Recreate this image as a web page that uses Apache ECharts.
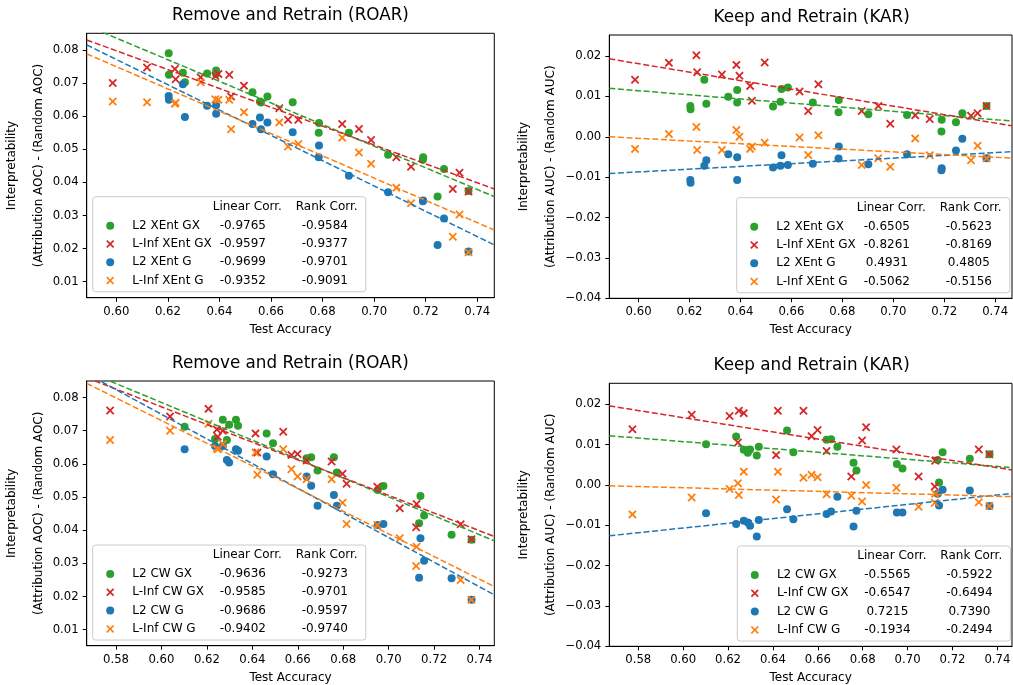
<!DOCTYPE html>
<html>
<head>
<meta charset="utf-8">
<script src="https://cdn.jsdelivr.net/npm/echarts@6/dist/echarts.min.js"></script>
<style>
  html, body { margin: 0; padding: 0; background: #fff; }
  #chart { width: 1013px; height: 685px; }
</style>
</head>
<body>
<div id="chart"></div>
<script>
// test accuracy of each model (shared by ROAR and KAR panels)
const xentL2X = [0.6203, 0.6204, 0.6258, 0.6266, 0.6352, 0.6387, 0.6387, 0.6528, 0.6557, 0.6561, 0.6586, 0.6684, 0.6786, 0.6785, 0.6902, 0.7054, 0.7190, 0.7189, 0.7246, 0.7271, 0.7366];
const xentLinfX = [0.5986, 0.6119, 0.6227, 0.6230, 0.6327, 0.6384, 0.6396, 0.6438, 0.6445, 0.6495, 0.6632, 0.6666, 0.6706, 0.6876, 0.6941, 0.6988, 0.7086, 0.7143, 0.7305, 0.7331, 0.7366];
const cwL2X = [0.6102, 0.6236, 0.6270, 0.6288, 0.6298, 0.6328, 0.6337, 0.6463, 0.6491, 0.6639, 0.6659, 0.6687, 0.6759, 0.6772, 0.6952, 0.6977, 0.7140, 0.7134, 0.7156, 0.7277, 0.7365];
const cwLinfX = [0.5774, 0.6038, 0.6207, 0.6244, 0.6248, 0.6270, 0.6414, 0.6422, 0.6536, 0.6572, 0.6599, 0.6639, 0.6749, 0.6797, 0.6815, 0.6950, 0.7049, 0.7121, 0.7123, 0.7317, 0.7364];

// ROAR, XEnt
const roarXentL2GX = [0.0790, 0.0725, 0.0731, 0.0702, 0.0729, 0.0738, 0.0727, 0.0672, 0.0644, 0.0641, 0.0659, 0.0642, 0.0579, 0.0550, 0.0550, 0.0483, 0.0476, 0.0468, 0.0357, 0.0440, 0.0374];
const roarXentLinfGX = [0.0700, 0.0747, 0.0742, 0.0711, 0.0717, 0.0721, 0.0727, 0.0725, 0.0659, 0.0692, 0.0624, 0.0589, 0.0589, 0.0576, 0.0561, 0.0528, 0.0476, 0.0447, 0.0380, 0.0429, 0.0372];
const roarXentL2G = [0.0661, 0.0649, 0.0696, 0.0597, 0.0631, 0.0607, 0.0633, 0.0576, 0.0596, 0.0560, 0.0581, 0.0551, 0.0511, 0.0476, 0.0420, 0.0370, 0.0345, 0.0343, 0.0211, 0.0291, 0.0191];
const roarXentLinfG = [0.0644, 0.0642, 0.0637, 0.0640, 0.0702, 0.0651, 0.0649, 0.0649, 0.0560, 0.0612, 0.0581, 0.0508, 0.0516, 0.0535, 0.0490, 0.0456, 0.0384, 0.0337, 0.0236, 0.0303, 0.0189];
// KAR, XEnt
const karXentL2GX = [0.0076, 0.0068, 0.0141, 0.0082, 0.0099, 0.0116, 0.0085, 0.0075, 0.0087, 0.0118, 0.0122, 0.0085, 0.0091, 0.0061, 0.0056, 0.0054, 0.0042, 0.0013, 0.0036, 0.0058, 0.0076];
const karXentLinfGX = [0.0141, 0.0183, 0.0202, 0.0160, 0.0154, 0.0178, 0.0151, 0.0126, 0.0089, 0.0184, 0.0112, 0.0064, 0.0130, 0.0064, 0.0076, 0.0032, 0.0053, 0.0044, 0.0052, 0.0058, 0.0076];
const karXentL2G = [-0.0107, -0.0114, -0.0072, -0.0058, -0.0043, -0.0051, -0.0107, -0.0076, -0.0072, -0.0046, -0.0070, -0.0067, -0.0024, -0.0054, -0.0068, -0.0043, -0.0078, -0.0083, -0.0034, -0.0005, -0.0053];
const karXentLinfG = [-0.0030, 0.0007, 0.0024, -0.0033, -0.0033, 0.0017, 0.0000, -0.0030, -0.0024, -0.0015, -0.0002, -0.0045, 0.0004, -0.0070, -0.0053, -0.0074, -0.0004, -0.0046, -0.0058, -0.0022, -0.0053];
// ROAR, CW
const roarCwL2GX = [0.0712, 0.0675, 0.0733, 0.0672, 0.0718, 0.0733, 0.0715, 0.0692, 0.0662, 0.0617, 0.0620, 0.0580, 0.0620, 0.0574, 0.0521, 0.0533, 0.0503, 0.0421, 0.0444, 0.0386, 0.0371];
const roarCwLinfGX = [0.0761, 0.0743, 0.0766, 0.0704, 0.0682, 0.0700, 0.0692, 0.0634, 0.0697, 0.0627, 0.0630, 0.0610, 0.0607, 0.0570, 0.0540, 0.0531, 0.0466, 0.0409, 0.0479, 0.0418, 0.0373];
const roarCwL2G = [0.0644, 0.0654, 0.0654, 0.0612, 0.0604, 0.0644, 0.0640, 0.0622, 0.0569, 0.0562, 0.0534, 0.0474, 0.0506, 0.0474, 0.0416, 0.0419, 0.0376, 0.0257, 0.0308, 0.0255, 0.0190];
const roarCwLinfG = [0.0672, 0.0700, 0.0721, 0.0647, 0.0644, 0.0660, 0.0634, 0.0567, 0.0644, 0.0584, 0.0562, 0.0554, 0.0554, 0.0483, 0.0419, 0.0416, 0.0376, 0.0292, 0.0350, 0.0250, 0.0190];
// KAR, CW
const karCwL2GX = [0.0101, 0.0120, 0.0087, 0.0080, 0.0088, 0.0073, 0.0095, 0.0135, 0.0081, 0.0112, 0.0113, 0.0095, 0.0055, 0.0036, 0.0052, 0.0041, 0.0006, 0.0062, 0.0081, 0.0065, 0.0076];
const karCwLinfGX = [0.0138, 0.0174, 0.0171, 0.0105, 0.0184, 0.0178, 0.0074, 0.0184, 0.0184, 0.0121, 0.0136, 0.0084, 0.0021, 0.0110, 0.0143, 0.0088, 0.0021, -0.0004, 0.0060, 0.0088, 0.0076];
const karCwL2G = [-0.0070, -0.0097, -0.0089, -0.0093, -0.0101, -0.0128, -0.0087, -0.0060, -0.0085, -0.0072, -0.0066, -0.0029, -0.0103, -0.0064, -0.0068, -0.0068, -0.0051, -0.0022, -0.0012, -0.0014, -0.0052];
const karCwLinfG = [-0.0073, -0.0031, -0.0010, 0.0004, -0.0025, 0.0033, -0.0036, 0.0033, 0.0018, 0.0025, 0.0019, -0.0023, -0.0027, -0.0041, 0.0000, -0.0007, -0.0054, -0.0044, -0.0022, -0.0043, -0.0052];

// dashed fit lines: value at left and right edge of the x range, order GX-L2, GX-Linf, G-L2, G-Linf
const roarXentFitStart = [0.0873, 0.0830, 0.0815, 0.0788];
const roarXentFitEnd = [0.0357, 0.0380, 0.0211, 0.0256];
const karXentFitStart = [0.0120, 0.0193, -0.0091, 0.0000];
const karXentFitEnd = [0.0039, 0.0027, -0.0037, -0.0053];
const roarCwFitStart = [0.0879, 0.0860, 0.0872, 0.0843];
const roarCwFitEnd = [0.0368, 0.0381, 0.0205, 0.0230];
const karCwFitStart = [0.0122, 0.0196, -0.0126, -0.0002];
const karCwFitEnd = [0.0043, 0.0037, -0.0021, -0.0029];

// correlations shown in the legends
const roarXentLin = [-0.9765, -0.9597, -0.9699, -0.9352];
const roarXentRank = [-0.9584, -0.9377, -0.9701, -0.9091];
const karXentLin = [-0.6505, -0.8261, 0.4931, -0.5062];
const karXentRank = [-0.5623, -0.8169, 0.4805, -0.5156];
const roarCwLin = [-0.9636, -0.9585, -0.9686, -0.9402];
const roarCwRank = [-0.9273, -0.9701, -0.9597, -0.9740];
const karCwLin = [-0.5565, -0.6547, 0.7215, -0.1934];
const karCwRank = [-0.5922, -0.6494, 0.7390, -0.2494];

const xentNames = ['L2 XEnt GX', 'L-Inf XEnt GX', 'L2 XEnt G', 'L-Inf XEnt G'];
const cwNames = ['L2 CW GX', 'L-Inf CW GX', 'L2 CW G', 'L-Inf CW G'];

// axis ranges and ticks
const xRangeTop = [0.5885, 0.7466];
const xRangeBottom = [0.5671, 0.7465];
const yRangeRoar = [0.00517, 0.0850];
const yRangeKar = [-0.04, 0.0252];
const xTicksTop = [0.60, 0.62, 0.64, 0.66, 0.68, 0.70, 0.72, 0.74];
const xTicksBottom = [0.58, 0.60, 0.62, 0.64, 0.66, 0.68, 0.70, 0.72, 0.74];
const yTicksRoar = [0.01, 0.02, 0.03, 0.04, 0.05, 0.06, 0.07, 0.08];
const yTicksKar = [-0.04, -0.03, -0.02, -0.01, 0.00, 0.01, 0.02];

const FONT = 'DejaVu Sans';
const COLORS = ['#2ca02c', '#d62728', '#1f77b4', '#ff7f0e'];
const CROSS = 'path://M0,1.5L1.5,0L5,3.5L8.5,0L10,1.5L6.5,5L10,8.5L8.5,10L5,6.5L1.5,10L0,8.5L3.5,5Z';
const SYMBOLS = ['circle', CROSS, 'circle', CROSS];

const panels = [
  { title: 'Remove and Retrain (ROAR)', grid: { left: 86.7, top: 33.3, width: 407.6, height: 264.4 },
    xr: xRangeTop, xt: xTicksTop, yr: yRangeRoar, yt: yTicksRoar, yname: 'Interpretability\n(Attribution AOC) - (Random AOC)', ygap: 34,
    xs: [xentL2X, xentLinfX, xentL2X, xentLinfX], ys: [roarXentL2GX, roarXentLinfGX, roarXentL2G, roarXentLinfG],
    fs: roarXentFitStart, fe: roarXentFitEnd, names: xentNames, lin: roarXentLin, rank: roarXentRank, leg: [92.7, 196.7] },
  { title: 'Keep and Retrain (KAR)', grid: { left: 609.3, top: 35, width: 402.7, height: 263.3 },
    xr: xRangeTop, xt: xTicksTop, yr: yRangeKar, yt: yTicksKar, yname: 'Interpretability\n(Attribution AUC) - (Random AUC)', ygap: 45,
    xs: [xentL2X, xentLinfX, xentL2X, xentLinfX], ys: [karXentL2GX, karXentLinfGX, karXentL2G, karXentLinfG],
    fs: karXentFitStart, fe: karXentFitEnd, names: xentNames, lin: karXentLin, rank: karXentRank, leg: [736.7, 197.7] },
  { title: 'Remove and Retrain (ROAR)', grid: { left: 86.7, top: 381, width: 407.6, height: 264.7 },
    xr: xRangeBottom, xt: xTicksBottom, yr: yRangeRoar, yt: yTicksRoar, yname: 'Interpretability\n(Attribution AOC) - (Random AOC)', ygap: 34,
    xs: [cwL2X, cwLinfX, cwL2X, cwLinfX], ys: [roarCwL2GX, roarCwLinfGX, roarCwL2G, roarCwLinfG],
    fs: roarCwFitStart, fe: roarCwFitEnd, names: cwNames, lin: roarCwLin, rank: roarCwRank, leg: [92.7, 545] },
  { title: 'Keep and Retrain (KAR)', grid: { left: 609.3, top: 383.3, width: 402.7, height: 263 },
    xr: xRangeBottom, xt: xTicksBottom, yr: yRangeKar, yt: yTicksKar, yname: 'Interpretability\n(Attribution AUC) - (Random AUC)', ygap: 45,
    xs: [cwL2X, cwLinfX, cwL2X, cwLinfX], ys: [karCwL2GX, karCwLinfGX, karCwL2G, karCwLinfG],
    fs: karCwFitStart, fe: karCwFitEnd, names: cwNames, lin: karCwLin, rank: karCwRank, leg: [737.3, 546] }
];

const fmtTick = v => (v < 0 ? '\u2212' : '') + Math.abs(v).toFixed(2);

const grids = [], xAxes = [], yAxes = [], series = [], legends = [], graphics = [];

panels.forEach((p, i) => {
  grids.push(Object.assign({ show: true, borderColor: '#000', borderWidth: 1, backgroundColor: 'transparent', outerBoundsMode: 'none', containLabel: false }, p.grid));

  const axisCommon = {
    type: 'value', gridIndex: i, splitLine: { show: false }, nameMoveOverlap: false,
    axisLine: { show: true, onZero: false, lineStyle: { color: '#000', width: 1 } },
    nameTextStyle: { fontFamily: FONT, fontSize: 12, color: '#000' }
  };
  xAxes.push(Object.assign({}, axisCommon, {
    min: p.xr[0], max: p.xr[1],
    name: 'Test Accuracy', nameLocation: 'middle', nameGap: 26,
    axisTick: { show: true, length: 4, customValues: p.xt, lineStyle: { color: '#000' } },
    axisLabel: { customValues: p.xt, formatter: fmtTick, fontFamily: FONT, fontSize: 11.7, color: '#000', margin: 8 }
  }));
  yAxes.push(Object.assign({}, axisCommon, {
    min: p.yr[0], max: p.yr[1],
    name: p.yname, nameLocation: 'middle', nameGap: p.ygap, nameRotate: 90,
    nameTextStyle: { fontFamily: FONT, fontSize: 12, color: '#000', lineHeight: 27 },
    axisTick: { show: true, length: 4, customValues: p.yt, lineStyle: { color: '#000' } },
    axisLabel: { customValues: p.yt, formatter: fmtTick, fontFamily: FONT, fontSize: 11.7, color: '#000', margin: 8 }
  }));

  // scatter points
  for (let k = 0; k < 4; k++) {
    series.push({
      type: 'scatter', name: p.names[k], xAxisIndex: i, yAxisIndex: i,
      symbol: SYMBOLS[k], symbolSize: k % 2 === 0 ? 8 : 8.5,
      itemStyle: { color: COLORS[k], opacity: 1 },
      data: p.xs[k].map((x, j) => [x, p.ys[k][j]]),
      z: 2 + k, silent: true
    });
  }
  // dashed fit lines
  for (let k = 0; k < 4; k++) {
    series.push({
      type: 'line', xAxisIndex: i, yAxisIndex: i, showSymbol: false, symbol: 'none', clip: true,
      lineStyle: { color: COLORS[k], width: 1.5, type: [6, 2.6] },
      data: [[p.xr[0], p.fs[k]], [p.xr[1], p.fe[k]]],
      z: 10 + k, silent: true
    });
  }

  const lin = p.lin, rank = p.rank, names = p.names;
  legends.push({
    orient: 'vertical', left: p.leg[0], top: p.leg[1],
    padding: [19.85, 11, 2, 13.5], itemWidth: 8, itemHeight: 8, itemGap: 0,
    backgroundColor: 'rgba(255,255,255,0.8)', borderColor: '#cccccc', borderWidth: 1, borderRadius: 3,
    selectedMode: false, data: names,
    formatter: name => {
      const k = names.indexOf(name);
      return '{p| }{n|' + name + '}{l|' + lin[k].toFixed(4) + '}{s| }{r|' + rank[k].toFixed(4) + '}';
    },
    textStyle: {
      fontFamily: FONT, fontSize: 12, color: '#000', lineHeight: 18.3,
      rich: {
        p: { width: 13.1, lineHeight: 18.3 },
        n: { width: 80.5, fontFamily: FONT, fontSize: 12, lineHeight: 18.3 },
        l: { width: 60, align: 'center', fontFamily: FONT, fontSize: 12, lineHeight: 18.3 },
        s: { width: 22, lineHeight: 18.3 },
        r: { width: 60, align: 'center', fontFamily: FONT, fontSize: 12, lineHeight: 18.3 }
      }
    }
  });

  // title above the panel and column headers of the legend
  graphics.push({
    type: 'text', x: p.grid.left + p.grid.width / 2 + (i % 2 ? 1 : 0), y: p.grid.top - 17.5,
    style: { text: p.title, fontFamily: FONT, fontSize: 16.8, fill: '#000', align: 'center', verticalAlign: 'middle' }
  });
  graphics.push({
    type: 'text', x: p.leg[0] + 154.6, y: p.leg[1] + 10,
    style: { text: 'Linear Corr.', fontFamily: FONT, fontSize: 12, fill: '#000', align: 'center', verticalAlign: 'middle' }, z: 100
  });
  graphics.push({
    type: 'text', x: p.leg[0] + 234, y: p.leg[1] + 10,
    style: { text: 'Rank Corr.', fontFamily: FONT, fontSize: 12, fill: '#000', align: 'center', verticalAlign: 'middle' }, z: 100
  });
});

const chart = echarts.init(document.getElementById('chart'), null, { renderer: 'canvas' });
chart.setOption({
  animation: false,
  backgroundColor: '#fff',
  grid: grids,
  xAxis: xAxes,
  yAxis: yAxes,
  legend: legends,
  series: series,
  graphic: { elements: graphics }
});
</script>
</body>
</html>
